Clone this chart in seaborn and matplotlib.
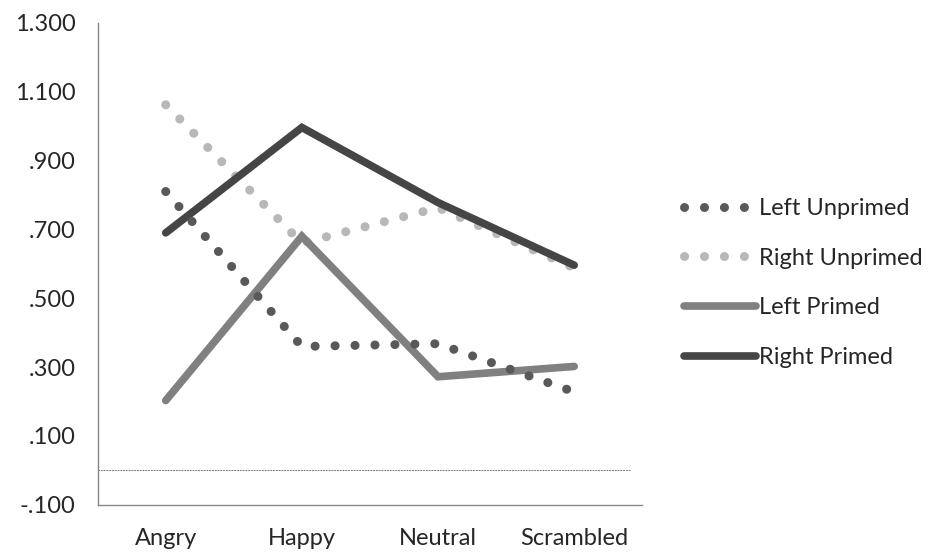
import matplotlib
matplotlib.use("Agg")
import numpy as np
import pandas as pd
import seaborn as sns
import matplotlib.pyplot as plt
from matplotlib.ticker import FuncFormatter

categories = ["Angry", "Happy", "Neutral", "Scrambled"]
left_unprimed = [0.810, 0.360, 0.368, 0.228]
right_unprimed = [1.062, 0.660, 0.763, 0.588]
left_primed = [0.203, 0.680, 0.272, 0.302]
right_primed = [0.690, 0.996, 0.778, 0.596]

series = {
    "Left Unprimed": left_unprimed,
    "Right Unprimed": right_unprimed,
    "Left Primed": left_primed,
    "Right Primed": right_primed,
}
colors = {
    "Left Unprimed": "#595959",
    "Right Unprimed": "#b8b8b8",
    "Left Primed": "#808080",
    "Right Primed": "#454545",
}
draw_order = ["Right Unprimed", "Left Primed", "Right Primed", "Left Unprimed"]

sns.set_style("white")
plt.rcParams["font.family"] = ["Lato", "DejaVu Sans"]
plt.rcParams["lines.dash_capstyle"] = "round"
plt.rcParams["lines.solid_capstyle"] = "round"
plt.rcParams["lines.solid_joinstyle"] = "miter"

fig = plt.figure(figsize=(9.39, 5.56), dpi=100)
ax = fig.add_axes([0.104, 0.092, 0.580, 0.867])

lines = {}
for name in draw_order:
    df = pd.DataFrame({"Emotion": np.arange(len(categories)), "Value": series[name]})
    dotted = "Unprimed" in name
    sns.lineplot(data=df, x="Emotion", y="Value", color=colors[name],
                 linewidth=6.5 if dotted else 5.5, ax=ax, label=name)
    ln = ax.lines[-1]
    if dotted:
        ln.set_linestyle((0, (0.01, 2.2)))
    lines[name] = ln

ax.axhline(0, xmin=0, xmax=0.98, ls=(0, (1, 1.5)), lw=0.8, color="#808080")

ax.set_xlim(-0.5, 3.5)
ax.set_ylim(-0.1, 1.3)
ax.set_yticks(np.arange(-0.1, 1.31, 0.2))
ax.yaxis.set_major_formatter(FuncFormatter(
    lambda v, p: ("%.3f" % v).replace("0.", ".") if abs(v) < 1 else "%.3f" % v))
ax.set_xticks(np.arange(-0.5, 3.6, 1.0))
ax.set_xticklabels([])
ax.set_xticks(np.arange(len(categories)), minor=True)
ax.set_xticklabels(categories, minor=True)
ax.tick_params(axis="x", which="minor", length=0, pad=17, labelsize=17)
ax.tick_params(axis="x", which="major", length=6, width=1, color="#868686", direction="out")
ax.tick_params(axis="y", length=6, width=1, color="#868686", direction="out", labelsize=17, pad=10)
ax.set_xlabel("")
ax.set_ylabel("")

for s in ["top", "right"]:
    ax.spines[s].set_visible(False)
for s in ["left", "bottom"]:
    ax.spines[s].set_color("#868686")
    ax.spines[s].set_linewidth(1)

order = list(series.keys())
ax.legend([lines[n] for n in order], order, loc="center left", bbox_to_anchor=(0.718, 0.491),
          bbox_transform=fig.transFigure, frameon=False, fontsize=17,
          handlelength=3.05, labelspacing=1.22, handletextpad=0.15, borderaxespad=0)

plt.savefig("out.png", dpi=100)
plt.close()
